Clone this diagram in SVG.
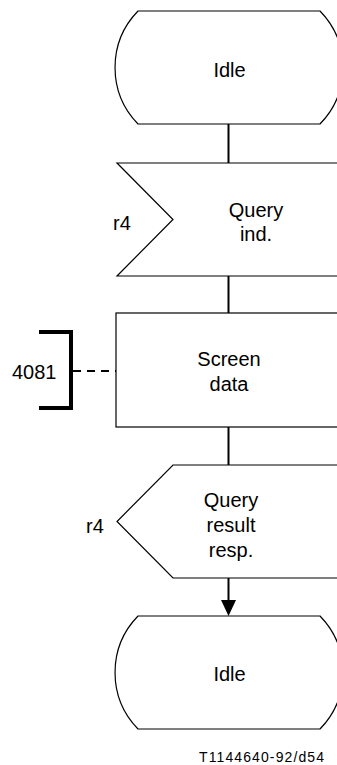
<svg xmlns="http://www.w3.org/2000/svg" width="337" height="765" viewBox="0 0 337 765">
<style>
.shape{fill:#fff;stroke:#000;stroke-width:1.2}
.conn{fill:none;stroke:#000;stroke-width:2}
.t{font-family:"Liberation Sans",Arial,sans-serif;font-size:20px;fill:#000}
.c{text-anchor:middle}
</style>
<rect width="337" height="765" fill="#fff"/>
<g id="connectors">
<line class="conn" x1="228.5" y1="124" x2="228.5" y2="163"/>
<line class="conn" x1="228.5" y1="276" x2="228.5" y2="313"/>
<line class="conn" x1="228.5" y1="427" x2="228.5" y2="465"/>
<line class="conn" x1="228.5" y1="578" x2="228.5" y2="602"/>
<polygon points="221,600 236,600 228.5,616" fill="#000"/>
<line class="conn" x1="73" y1="371" x2="116" y2="371" stroke-dasharray="8,6"/>
</g>
<g id="idle1">
<path class="shape" d="M138,11 H320 A81 81 0 0 1 320,124 H138 A81 81 0 0 1 138,11 Z"/>
<text class="t c" x="229.5" y="77">Idle</text>
</g>
<g id="query-ind">
<path class="shape" d="M117,163 H342 V276 H117 L173,219.5 Z"/>
<text class="t c" x="256" y="217">Query</text>
<text class="t c" x="256" y="241">ind.</text>
<text class="t" x="113" y="230">r4</text>
</g>
<g id="screen-data">
<rect class="shape" x="116" y="313" width="226" height="114"/>
<text class="t c" x="229" y="366">Screen</text>
<text class="t c" x="229" y="391">data</text>
</g>
<g id="ref-4081">
<path d="M39,332 H71 V408 H39" fill="none" stroke="#000" stroke-width="4"/>
<text class="t" x="12" y="379">4081</text>
</g>
<g id="query-result-resp">
<path class="shape" d="M173,465 H342 V578 H173 L117,521.5 Z"/>
<text class="t c" x="231" y="507">Query</text>
<text class="t c" x="231" y="532">result</text>
<text class="t c" x="231" y="557">resp.</text>
<text class="t" x="86" y="533">r4</text>
</g>
<g id="idle2">
<path class="shape" d="M138,616 H320 A81 81 0 0 1 320,729 H138 A81 81 0 0 1 138,616 Z"/>
<text class="t c" x="229.5" y="681">Idle</text>
</g>
<text x="199" y="762" font-family="Liberation Sans,Arial,sans-serif" font-size="14" textLength="125" lengthAdjust="spacing">T1144640-92/d54</text>
</svg>
